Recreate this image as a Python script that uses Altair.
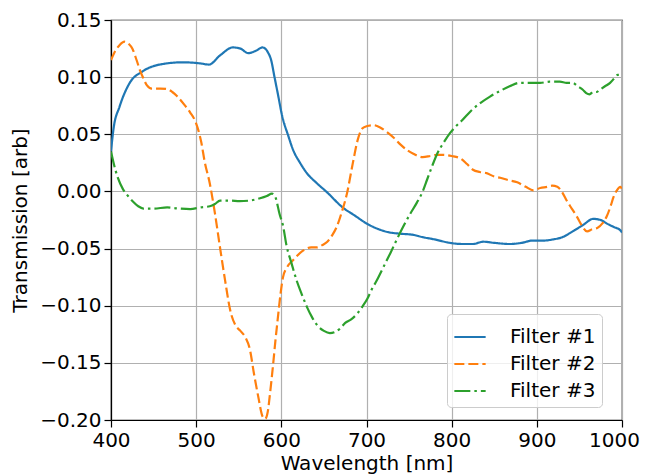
import altair as alt
import pandas as pd

# Filter #1 (solid)
f1_x = [400, 403, 410, 422, 437, 457, 485, 505, 515, 528, 543, 552, 561, 570, 578, 584, 588, 592, 596, 601,
        608, 614, 622, 630, 642, 654, 672, 686, 700, 714, 728, 740, 755, 766, 780, 798, 812, 825, 837, 850,
        868, 882, 895, 908, 919, 930, 942, 955, 966, 975, 982, 990, 998, 1000]
f1_y = [0.035, 0.055, 0.074, 0.095, 0.105, 0.111, 0.113, 0.112, 0.111, 0.119, 0.126, 0.125, 0.121, 0.123, 0.126,
        0.122, 0.115, 0.100, 0.085, 0.066, 0.049, 0.036, 0.025, 0.016, 0.007, -0.001, -0.014, -0.021, -0.028,
        -0.033, -0.036, -0.037, -0.038, -0.040, -0.042, -0.045, -0.046, -0.046, -0.044, -0.045, -0.046, -0.045,
        -0.043, -0.043, -0.042, -0.040, -0.035, -0.029, -0.024, -0.025, -0.028, -0.031, -0.034, -0.036]

# Filter #2 (dashed)
f2_x = [400, 405, 410, 416, 421, 425, 430, 434, 438, 442, 448, 458, 466, 472, 478, 486, 493, 498, 502, 506,
        510, 516, 522, 528, 534, 540, 546, 552, 558, 563, 568, 573, 578, 581, 584, 587, 590, 593, 596, 599,
        602, 607, 614, 625, 635, 642, 648, 654, 660, 665, 671, 677, 684, 690, 695, 700, 708, 716, 724, 732,
        740, 748, 755, 766, 775, 783, 790, 800, 810, 818, 825, 833, 841, 850, 857, 866, 877, 887, 896, 904,
        912, 918, 924, 930, 935, 941, 947, 953, 959, 965, 971, 977, 982, 987, 990, 994, 998, 1000]
f2_y = [0.115, 0.123, 0.128, 0.131, 0.129, 0.125, 0.115, 0.106, 0.099, 0.093, 0.090, 0.090, 0.0895, 0.087, 0.083,
        0.076, 0.069, 0.063, 0.055, 0.043, 0.026, 0.007, -0.019, -0.049, -0.078, -0.104, -0.117, -0.122, -0.128,
        -0.138, -0.160, -0.180, -0.197, -0.199, -0.193, -0.175, -0.154, -0.131, -0.110, -0.090, -0.075, -0.066,
        -0.060, -0.052, -0.049, -0.049, -0.047, -0.044, -0.038, -0.031, -0.018, -0.002, 0.025, 0.046, 0.055,
        0.057, 0.058, 0.056, 0.052, 0.047, 0.041, 0.036, 0.033, 0.030, 0.031, 0.032, 0.032, 0.031, 0.029, 0.024,
        0.019, 0.017, 0.016, 0.013, 0.012, 0.010, 0.008, 0.004, 0.001, 0.003, 0.004, 0.005, 0.004, -0.001,
        -0.008, -0.015, -0.022, -0.030, -0.035, -0.033, -0.032, -0.028, -0.022, -0.012, -0.005, 0.001, 0.004,
        0.002]

# Filter #3 (dash-dot)
f3_x = [400, 403, 408, 414, 420, 426, 432, 438, 450, 466, 480, 493, 505, 516, 522, 528, 540, 551, 563, 575,
        583, 589, 593, 598, 602, 606, 612, 618, 624, 630, 636, 642, 650, 657, 663, 669, 675, 682, 689, 695,
        701, 706, 712, 720, 728, 735, 743, 751, 759, 766, 771, 777, 783, 790, 798, 805, 812, 822, 833, 845,
        857, 868, 880, 892, 904, 915, 927, 935, 942, 948, 954, 958, 962, 966, 970, 974, 980, 986, 991, 995, 1000]
f3_y = [0.035, 0.025, 0.012, 0.002, -0.004, -0.009, -0.013, -0.015, -0.015, -0.014, -0.015, -0.0155, -0.014,
        -0.013, -0.011, -0.008, -0.008, -0.0085, -0.008, -0.006, -0.004, -0.002, -0.005, -0.020, -0.030, -0.047,
        -0.063, -0.078, -0.090, -0.101, -0.110, -0.117, -0.122, -0.124, -0.123, -0.120, -0.115, -0.112, -0.107,
        -0.101, -0.094, -0.086, -0.078, -0.066, -0.054, -0.043, -0.031, -0.020, -0.010, 0.000, 0.010, 0.022,
        0.033, 0.042, 0.051, 0.057, 0.062, 0.070, 0.077, 0.083, 0.088, 0.092, 0.095, 0.095, 0.095, 0.096, 0.096,
        0.095, 0.095, 0.092, 0.089, 0.086, 0.085, 0.087, 0.087, 0.089, 0.092, 0.095, 0.099, 0.102, 0.102]

series = ["Filter #1", "Filter #2", "Filter #3"]
colors = ["#1f77b4", "#ff7f0e", "#2ca02c"]
dashes = [[1, 0], [10, 4], [16, 4, 2.5, 4]]
x_ticks = [400, 500, 600, 700, 800, 900, 1000]
y_ticks = [-0.20, -0.15, -0.10, -0.05, 0.00, 0.05, 0.10, 0.15]

rows = []
for name, xs, ys in zip(series, [f1_x, f2_x, f3_x], [f1_y, f2_y, f3_y]):
    for i, (a, b) in enumerate(zip(xs, ys)):
        rows.append({"wl": a, "t": b, "Filter": name, "order": i})
df = pd.DataFrame(rows)

FONT = "DejaVu Sans"

chart = alt.Chart(df).mark_line(strokeWidth=2.2, interpolate="monotone", clip=True).encode(
    x=alt.X("wl:Q", scale=alt.Scale(domain=[400, 1000], nice=False, zero=False),
            axis=alt.Axis(values=x_ticks, title="Wavelength [nm]", format="d",
                          labelFlush=False, labelOverlap=False,
                          labelOffset={"condition": {"test": "datum.value == 1000", "value": -8},
                                       "value": 0})),
    y=alt.Y("t:Q", scale=alt.Scale(domain=[-0.20, 0.15], nice=False, zero=False),
            axis=alt.Axis(values=y_ticks, title="Transmission [arb]", labelFlush=False,
                          labelOverlap=False,
                          labelExpr="replace(format(datum.value, '.2f'), '-', '\u2212')")),
    color=alt.Color("Filter:N", scale=alt.Scale(domain=series, range=colors),
                    legend=alt.Legend(title=None, orient="none", legendX=336, legendY=294)),
    strokeDash=alt.StrokeDash("Filter:N", scale=alt.Scale(domain=series, range=dashes),
                              legend=alt.Legend(title=None, orient="none", legendX=336, legendY=294)),
    order="order:Q",
).properties(
    width=511, height=400,
    autosize=alt.AutoSizeParams(type="none"),
    padding={"left": 103, "top": 12, "right": 18, "bottom": 60},
).configure_view(
    stroke="black", strokeWidth=1.2
).configure_axis(
    labelFont=FONT, titleFont=FONT, labelFontSize=20, titleFontSize=20,
    labelColor="black", titleColor="black", titleFontWeight="normal",
    domainColor="black", domainWidth=1.2, tickColor="black", tickSize=7, tickWidth=1.2,
    gridColor="#b0b0b0", gridWidth=1.2, labelPadding=3,
).configure_axisY(
    titlePadding=9
).configure_axisX(
    titlePadding=3
).configure_legend(
    labelFont=FONT, labelFontSize=20, labelColor="black",
    symbolType="stroke", symbolSize=980, symbolStrokeWidth=2.2,
    rowPadding=0, labelOffset=23, padding=6,
    fillColor="rgba(255,255,255,0.8)", strokeColor="#cccccc", cornerRadius=4,
)

chart.save("out.html", embed_options={"renderer": "svg", "actions": False})
